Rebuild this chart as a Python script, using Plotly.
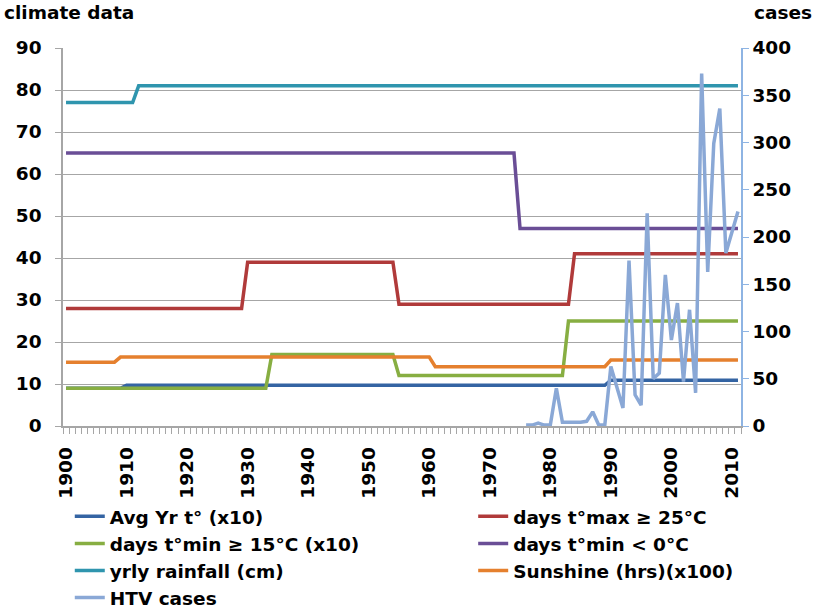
import plotly.graph_objects as go

# step series: years where the value changes, and the values at those years
avg_years = [1900, 1909, 1910, 1989, 1990, 2011]
avg_vals = [9.0, 9.0, 9.7, 9.7, 10.9, 10.9]

tmax_years = [1900, 1929, 1930, 1954, 1955, 1983, 1984, 2011]
tmax_vals = [28, 28, 39, 39, 29, 29, 41, 41]

tmin15_years = [1900, 1933, 1934, 1954, 1955, 1982, 1983, 2011]
tmin15_vals = [9, 9, 17, 17, 12, 12, 25, 25]

tmin0_years = [1900, 1974, 1975, 2011]
tmin0_vals = [65, 65, 47, 47]

rain_years = [1900, 1911, 1912, 2011]
rain_vals = [77, 77, 81, 81]

sun_years = [1900, 1908, 1909, 1960, 1961, 1989, 1990, 2011]
sun_vals = [15.2, 15.2, 16.4, 16.4, 14.1, 14.1, 15.7, 15.7]

htv_years = list(range(1976, 2012))
htv_cases = [1, 1, 3, 1, 1, 40, 4, 4, 4, 4, 5, 15, 1, 1, 63, 41, 19, 175,
             33, 22, 225, 50, 56, 160, 91, 130, 47, 123, 35, 373, 163, 299,
             336, 183, 205, 227]

decade_ticks = list(range(1900, 2011, 10))

font = dict(family="DejaVu Sans", size=18.5, color="black", weight="bold")
grey = "#A6A6A6"

fig = go.Figure()

def add_line(x, y, name, color, legend="legend"):
    fig.add_trace(go.Scatter(x=x, y=y, mode="lines", name=name,
                             line=dict(color=color, width=3.5),
                             legend=legend))

add_line(avg_years, avg_vals, "Avg Yr t° (x10)", "#3464A3")
add_line(tmax_years, tmax_vals, "days t°max ≥ 25°C", "#B03A3A", "legend2")
add_line(tmin15_years, tmin15_vals, "days t°min ≥ 15°C (x10)", "#87AE42")
add_line(tmin0_years, tmin0_vals, "days t°min < 0°C", "#6A4E96", "legend2")
add_line(rain_years, rain_vals, "yrly rainfall (cm)", "#2F95AE")
add_line(sun_years, sun_vals, "Sunshine (hrs)(x100)", "#E5802E", "legend2")

fig.add_trace(go.Scatter(x=htv_years, y=htv_cases, mode="lines", name="HTV cases",
                         line=dict(color="#8AA8D6", width=3.5),
                         yaxis="y2"))

fig.update_layout(
    width=827, height=614,
    margin=dict(l=63, r=86, t=48, b=188, autoexpand=False),
    plot_bgcolor="white", paper_bgcolor="white",
    font=font,
    xaxis=dict(range=[1899.5, 2011.5], tickvals=decade_ticks, tickangle=-90,
               ticks="", showgrid=False, zeroline=False,
               showline=True, linecolor=grey, linewidth=1.5,
               tickfont=font, ticklabelstandoff=12,
               minor=dict(ticks="outside", tick0=1899.5, dtick=1,
                          ticklen=6, tickcolor=grey, tickwidth=1, showgrid=False)),
    yaxis=dict(range=[0, 90], dtick=10, showgrid=True, gridcolor=grey,
               gridwidth=1.3, zeroline=False, showline=True, linecolor=grey,
               linewidth=1.5, ticks="outside", ticklen=6, tickcolor=grey,
               tickfont=font, ticklabelstandoff=10),
    yaxis2=dict(range=[0, 400], dtick=50, overlaying="y", side="right",
                showgrid=False, zeroline=False, showline=True,
                linecolor="#8EB4E3", linewidth=1.5, ticks="outside",
                ticklen=6, tickcolor="#8EB4E3", tickfont=font,
                ticklabelstandoff=0),
    legend=dict(x=0.01, y=-0.19, xanchor="left", yanchor="top",
                font=font, bgcolor="rgba(0,0,0,0)", tracegroupgap=0),
    legend2=dict(x=0.605, y=-0.19, xanchor="left", yanchor="top",
                 font=font, bgcolor="rgba(0,0,0,0)", tracegroupgap=0),
    annotations=[
        dict(text="climate data", xref="paper", yref="paper", x=-0.09, y=1.093,
             xanchor="left", yanchor="middle", showarrow=False, font=font),
        dict(text="cases", xref="paper", yref="paper", x=1.016, y=1.093,
             xanchor="left", yanchor="middle", showarrow=False, font=font),
    ],
)

# drop the default page margin so the figure sits at the window's corner
fig.write_html("out.html", config={"displayModeBar": False},
               post_script="document.body.style.margin='0';")
